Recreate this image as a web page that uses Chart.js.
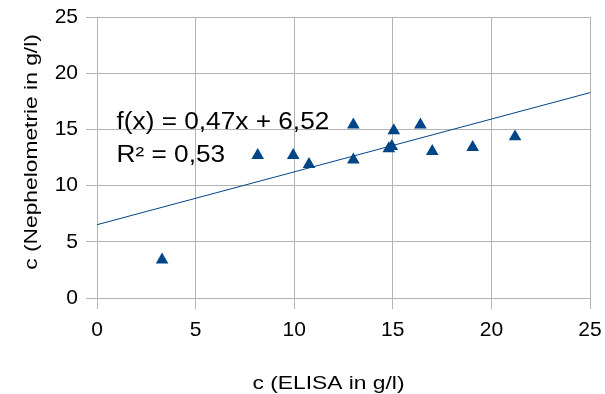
<!DOCTYPE html>
<html>
<head>
<meta charset="utf-8">
<script src="https://cdn.jsdelivr.net/npm/chart.js@4.4.1/dist/chart.umd.min.js"></script>
<style>
html,body{margin:0;padding:0;background:#fff;}
#wrap{width:605px;height:394px;}
</style>
</head>
<body>
<div id="wrap"><canvas id="c" width="605" height="394"></canvas></div>
<script>
// Data
const elisa = [3.3, 8.15, 9.95, 10.75, 13.0, 13.0, 14.8, 14.95, 15.05, 16.4, 17.0, 19.05, 21.2];
const nephelometrie = [3.4, 12.7, 12.7, 11.9, 15.4, 12.3, 13.3, 13.5, 14.9, 15.4, 13.05, 13.4, 14.35];
const trendX = [0, 25];
const trendY = [6.52, 18.27];
const xTicks = [0, 5, 10, 15, 20, 25];
const yTicks = [0, 5, 10, 15, 20, 25];
const xTitle = 'c (ELISA in g/l)';
const yTitle = 'c (Nephelometrie in g/l)';
const eqLines = ['f(x) = 0,47x + 6,52', 'R² = 0,53'];

const BLUE = '#004586';
const GRID = '#b3b3b3';
const FONT = '"Liberation Sans", Arial, sans-serif';

const points = elisa.map((x, i) => ({x: x, y: nephelometrie[i]}));
const trend = trendX.map((x, i) => ({x: x, y: trendY[i]}));

const textPlugin = {
  id: 'texts',
  afterDraw(chart) {
    const ctx = chart.ctx;
    ctx.save();
    ctx.fillStyle = '#000';
    ctx.font = '19px ' + FONT;
    ctx.textAlign = 'center';
    ctx.textBaseline = 'alphabetic';
    // x axis title
    ctx.save();
    ctx.translate(328.5, 389);
    ctx.scale(1.2, 1);
    ctx.fillText(xTitle, 0, 0);
    ctx.restore();
    // y axis title
    ctx.save();
    ctx.translate(37, 152);
    ctx.rotate(-Math.PI / 2);
    ctx.scale(1.2, 1);
    ctx.fillText(yTitle, 0, 0);
    ctx.restore();
    // regression equation
    ctx.font = '23px ' + FONT;
    ctx.textAlign = 'left';
    ctx.save();
    ctx.translate(116.5, 129);
    ctx.scale(1.14, 1);
    ctx.fillText(eqLines[0], 0, 0);
    ctx.restore();
    ctx.save();
    ctx.translate(116.5, 161.5);
    ctx.scale(1.14, 1);
    ctx.fillText(eqLines[1], 0, 0);
    ctx.restore();
    ctx.restore();
  }
};

function zeroPad(s) { s.paddingLeft = 0; s.paddingRight = 0; s.paddingTop = 0; s.paddingBottom = 0; }

new Chart(document.getElementById('c'), {
  type: 'scatter',
  data: {
    datasets: [
      {
        data: trend,
        showLine: true,
        borderColor: BLUE,
        borderWidth: 1,
        pointRadius: 0,
        fill: false,
        order: 2
      },
      {
        data: points,
        pointStyle: 'triangle',
        pointRadius: 7.3,
        backgroundColor: BLUE,
        borderColor: BLUE,
        borderWidth: 0,
        order: 1
      }
    ]
  },
  options: {
    responsive: false,
    animation: false,
    devicePixelRatio: 1,
    layout: {padding: {top: 17, right: 15, left: 0, bottom: 0}},
    plugins: {legend: {display: false}, tooltip: {enabled: false}},
    scales: {
      x: {
        type: 'linear',
        min: 0, max: 25,
        afterBuildTicks(s) { s.ticks = xTicks.map(v => ({value: v})); },
        afterFit(s) { s.height = 96; zeroPad(s); },
        grid: {color: GRID, lineWidth: 1, tickLength: 11, drawTicks: true, tickColor: GRID},
        border: {color: GRID, width: 1},
        ticks: {color: '#000', font: {family: FONT, size: 21}, padding: 9, maxRotation: 0}
      },
      y: {
        type: 'linear',
        min: 0, max: 25,
        afterBuildTicks(s) { s.ticks = yTicks.map(v => ({value: v})); },
        afterFit(s) { s.width = 97; zeroPad(s); },
        grid: {color: GRID, lineWidth: 1, tickLength: 11, drawTicks: true, tickColor: GRID},
        border: {color: GRID, width: 1},
        ticks: {color: '#000', font: {family: FONT, size: 21}, padding: 8}
      }
    }
  },
  plugins: [textPlugin]
});
</script>
</body>
</html>
